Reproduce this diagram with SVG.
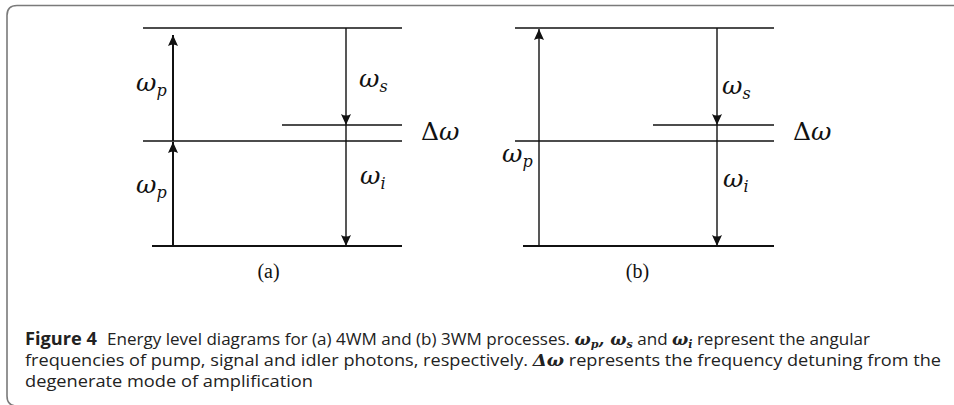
<svg xmlns="http://www.w3.org/2000/svg" width="954" height="405" viewBox="0 0 954 405">
<defs>
<style>
.lvl{stroke:#111;stroke-width:1.3;fill:none}
.gnd{stroke:#111;stroke-width:2;fill:none}
.arr{stroke:#111;stroke-width:1.4;fill:none;marker-end:url(#ah)}
.arrb{stroke:#111;stroke-width:2;fill:none;marker-end:url(#ah)}
.m{font-family:"DejaVu Serif","Liberation Serif",serif;font-style:italic;font-size:25px;fill:#111}
.sub{font-size:16px}
.up{font-style:normal}
.lab{font-family:"Liberation Serif","DejaVu Serif",serif;font-size:20px;fill:#111}
.cap{font-family:"Open Sans","Liberation Sans",sans-serif;font-size:17px;fill:#222}
.b{font-weight:bold}
.bi{font-family:"DejaVu Serif",serif;font-weight:bold;font-style:italic}
</style>
<marker id="ah" markerUnits="userSpaceOnUse" markerWidth="14" markerHeight="12" viewBox="-12 -6 14 12" refX="0" refY="0" orient="auto">
<path d="M0,0 L-11,-5 Q-8,0 -11,5 Z" fill="#111"/>
</marker>
</defs>
<path d="M954 5.5 H17 Q7 5.5 7 15.5 V396 Q7 406 17 406" fill="none" stroke="#7a7a7a" stroke-width="1.6"/>
<g id="diagram-a">
<g id="a-levels">
<line class="lvl" x1="143" y1="28" x2="402" y2="28"/>
<line class="lvl" x1="143" y1="141" x2="402" y2="141"/>
<line class="lvl" x1="282" y1="125" x2="402" y2="125"/>
<line class="gnd" x1="152" y1="246" x2="402" y2="246"/>
</g>
<g id="a-connectors">
<line class="arrb" x1="173" y1="246" x2="173" y2="142"/>
<line class="arrb" x1="173" y1="141" x2="173" y2="35"/>
<line class="arr" x1="346" y1="28" x2="346" y2="125"/>
<line class="arr" x1="346" y1="125" x2="346" y2="246"/>
</g>
<g id="a-labels">
<text class="m" x="136" y="91">ω<tspan class="sub" dy="5">p</tspan></text>
<text class="m" x="136" y="193">ω<tspan class="sub" dy="5">p</tspan></text>
<text class="m" x="359" y="87">ω<tspan class="sub" dy="5">s</tspan></text>
<text class="m" x="360" y="184">ω<tspan class="sub" dy="5">i</tspan></text>
<text class="m" x="421" y="140"><tspan class="up">Δ</tspan>ω</text>
<text class="lab" x="268.5" y="278" text-anchor="middle">(a)</text>
</g>
</g>
<g id="diagram-b">
<g id="b-levels">
<line class="lvl" x1="515" y1="28" x2="774" y2="28"/>
<line class="lvl" x1="515" y1="141" x2="774" y2="141"/>
<line class="lvl" x1="653" y1="125" x2="774" y2="125"/>
<line class="gnd" x1="523" y1="246" x2="774" y2="246"/>
</g>
<g id="b-connectors">
<line class="arr" x1="539" y1="246" x2="539" y2="29"/>
<line class="arr" x1="717" y1="28" x2="717" y2="125"/>
<line class="arr" x1="717" y1="125" x2="717" y2="246"/>
</g>
<g id="b-labels">
<text class="m" x="502" y="162">ω<tspan class="sub" dy="5">p</tspan></text>
<text class="m" x="722" y="94">ω<tspan class="sub" dy="5">s</tspan></text>
<text class="m" x="723" y="187">ω<tspan class="sub" dy="5">i</tspan></text>
<text class="m" x="793" y="140"><tspan class="up">Δ</tspan>ω</text>
<text class="lab" x="637.5" y="278" text-anchor="middle">(b)</text>
</g>
</g>
<g id="caption">
<text class="cap b" x="25" y="345" textLength="72" lengthAdjust="spacingAndGlyphs">Figure 4</text>
<text class="cap" x="107" y="345" textLength="763" lengthAdjust="spacingAndGlyphs">Energy level diagrams for (a) 4WM and (b) 3WM processes. <tspan class="bi">ω<tspan font-size="11" baseline-shift="-3">p</tspan>, ω<tspan font-size="11" baseline-shift="-3">s</tspan></tspan> and <tspan class="bi">ω<tspan font-size="11" baseline-shift="-3">i</tspan></tspan> represent the angular</text>
<text class="cap" x="25" y="366" textLength="916" lengthAdjust="spacingAndGlyphs">frequencies of pump, signal and idler photons, respectively. <tspan class="bi" font-style="normal">Δ</tspan><tspan class="bi">ω</tspan> represents the frequency detuning from the</text>
<text class="cap" x="25" y="387" textLength="288" lengthAdjust="spacingAndGlyphs">degenerate mode of amplification</text>
</g>
</svg>
